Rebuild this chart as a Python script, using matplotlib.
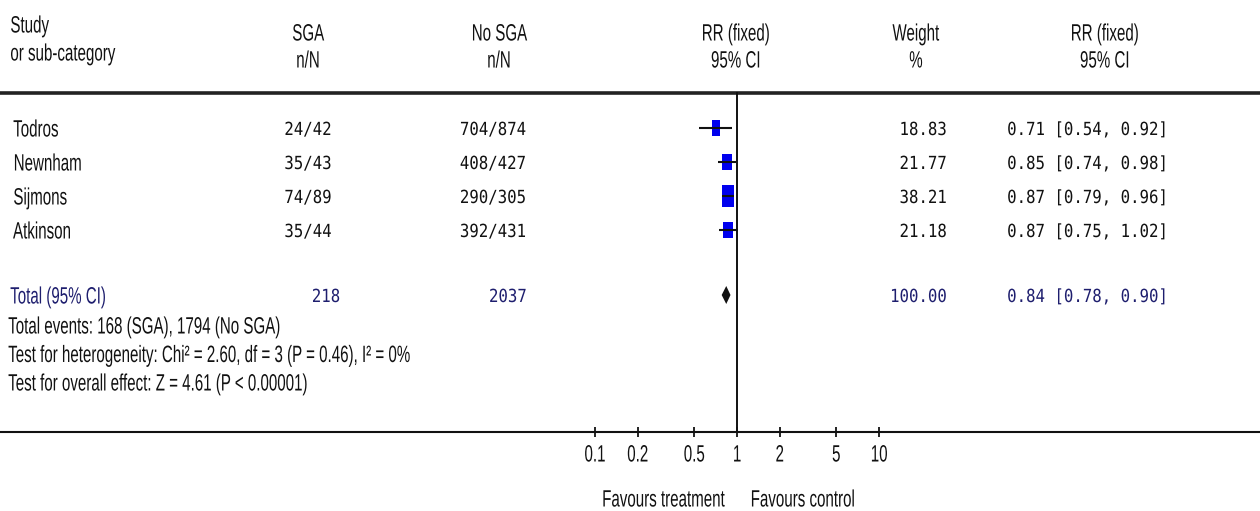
import matplotlib
matplotlib.use("Agg")
import matplotlib.pyplot as plt
from matplotlib.patheffects import AbstractPathEffect
from matplotlib.transforms import Affine2D, blended_transform_factory
from matplotlib.path import Path
import numpy as np

# ---- study data ----
studies = ["Todros", "Newnham", "Sijmons", "Atkinson"]
sga_events = [24, 35, 74, 35]
sga_total = [42, 43, 89, 44]
nosga_events = [704, 408, 290, 392]
nosga_total = [874, 427, 305, 431]
weights = [18.83, 21.77, 38.21, 21.18]
rr = [0.71, 0.85, 0.87, 0.87]
rr_low = [0.54, 0.74, 0.79, 0.75]
rr_high = [0.92, 0.98, 0.96, 1.02]

# ---- pooled estimate ----
total_sga = 218
total_nosga = 2037
total_weight = 100.00
pooled_rr = 0.84
pooled_low = 0.78
pooled_high = 0.90

footnotes = [
    "Total events: 168 (SGA), 1794 (No SGA)",
    "Test for heterogeneity: Chi\u00b2 = 2.60, df = 3 (P = 0.46), I\u00b2 = 0%",
    "Test for overall effect: Z = 4.61 (P < 0.00001)",
]
tick_values = [0.1, 0.2, 0.5, 1, 2, 5, 10]
tick_labels = ["0.1", "0.2", "0.5", "1", "2", "5", "10"]


class XSqueeze(AbstractPathEffect):
    """Narrow glyphs horizontally about the text's alignment point."""

    def __init__(self, sx, align="left"):
        super().__init__()
        self.sx = sx
        self.align = align

    def draw_path(self, renderer, gc, tpath, affine, rgbFace=None):
        bb = tpath.get_extents(affine)
        x0 = {"left": bb.x0, "center": 0.5 * (bb.x0 + bb.x1), "right": bb.x1}[self.align]
        t = affine + Affine2D().translate(-x0, 0).scale(self.sx, 1).translate(x0, 0)
        renderer.draw_path(gc, tpath, t, rgbFace)


W, H = 1260, 511
AXIS_Y = 432
fig = plt.figure(figsize=(W / 100, H / 100), dpi=100)
ax = fig.add_axes([0, (H - AXIS_Y) / H, 1, AXIS_Y / H])
ax.set_xscale("log")
# one decade spans 142 px, null effect line at x = 737 px
ax.set_xlim(10 ** (-737 / 142), 10 ** ((W - 737) / 142))
ax.set_ylim(AXIS_Y, 0)
for s in ("top", "left", "right"):
    ax.spines[s].set_visible(False)
ax.spines["bottom"].set_linewidth(1.5)
ax.spines["bottom"].set_color("#111111")
ax.set_yticks([])
ax.xaxis.set_minor_locator(matplotlib.ticker.NullLocator())
ax.set_xticks(tick_values)
SANS = "Liberation Sans"
MONO = "DejaVu Sans Mono"
SANS_SIZE = 17
SANS_SX = 0.64
MONO_SIZE = 13
MONO_SX = 0.87
INK = "#111111"
NAVY = "#1e1e6e"

labels = ax.set_xticklabels(tick_labels, fontfamily=SANS, fontsize=SANS_SIZE, color=INK)
for lbl in labels:
    lbl.set_path_effects([XSqueeze(SANS_SX, "center")])
ax.tick_params(axis="x", direction="inout", length=7, width=1.3, color=INK, pad=5.5)

tr = blended_transform_factory(ax.transAxes, ax.transData)


def sans(x, y, s, ha="left", color=INK):
    t = ax.text(x / W, y, s, transform=tr, ha=ha, va="center_baseline",
                fontfamily=SANS, fontsize=SANS_SIZE, color=color)
    t.set_path_effects([XSqueeze(SANS_SX, ha)])
    return t


def mono(x, y, s, ha="left", color=INK):
    t = ax.text(x / W, y, s, transform=tr, ha=ha, va="center_baseline",
                fontfamily=MONO, fontsize=MONO_SIZE, color=color)
    t.set_path_effects([XSqueeze(MONO_SX, ha)])
    return t


# ---- header ----
sans(10, 24, "Study")
sans(10, 52, "or sub-category")
sans(308, 32, "SGA", "center")
sans(308, 59, "n/N", "center")
sans(499, 32, "No SGA", "center")
sans(499, 59, "n/N", "center")
sans(736, 32, "RR (fixed)", "center")
sans(736, 59, "95% CI", "center")
sans(916, 32, "Weight", "center")
sans(916, 59, "%", "center")
sans(1105, 32, "RR (fixed)", "center")
sans(1105, 59, "95% CI", "center")
ax.axhline(93, color="#222222", lw=2.6)

# ---- study rows ----
ROW0, ROW_STEP = 128, 34
rows = [ROW0 + ROW_STEP * i for i in range(len(studies))]

# rectangular study markers, taller than wide
rect_marker = Path([(-0.5, -0.875), (0.5, -0.875), (0.5, 0.875), (-0.5, 0.875), (-0.5, -0.875)],
                   [Path.MOVETO, Path.LINETO, Path.LINETO, Path.LINETO, Path.CLOSEPOLY])

for i, y in enumerate(rows):
    sans(13, y, studies[i])
    mono(308, y, f"{sga_events[i]}/{sga_total[i]}", "center")
    mono(493, y, f"{nosga_events[i]}/{nosga_total[i]}", "center")
    mono(947, y, f"{weights[i]:.2f}", "right")
    mono(1007, y, f"{rr[i]:.2f} [{rr_low[i]:.2f}, {rr_high[i]:.2f}]")
    height_px = 2.0 * np.sqrt(weights[i]) * 1.75
    ax.plot([rr[i]], [y], marker=rect_marker, markersize=height_px * 0.72,
            color="#0000ee", markeredgewidth=0, zorder=3)
    ax.plot([rr_low[i], rr_high[i]], [y, y], color="#111111", lw=1.5, zorder=4,
            solid_capstyle="butt")

# ---- pooled row ----
TOTAL_Y = 295
sans(10, TOTAL_Y, "Total (95% CI)", color=NAVY)
mono(326, TOTAL_Y, f"{total_sga}", "center", NAVY)
mono(527, TOTAL_Y, f"{total_nosga}", "right", NAVY)
mono(947, TOTAL_Y, f"{total_weight:.2f}", "right", NAVY)
mono(1007, TOTAL_Y, f"{pooled_rr:.2f} [{pooled_low:.2f}, {pooled_high:.2f}]", color=NAVY)
half_h = 9
ax.fill([pooled_low, pooled_rr, pooled_high, pooled_rr],
        [TOTAL_Y, TOTAL_Y - half_h, TOTAL_Y, TOTAL_Y + half_h],
        color="#111111", lw=0, zorder=3)

for j, note in enumerate(footnotes):
    sans(8, 325 + 28.5 * j, note)

# line of no effect
ax.plot([1, 1], [93, AXIS_Y], color="#111111", lw=1.4, zorder=2, clip_on=False)

# ---- direction labels ----
sans(725, 498, "Favours treatment", "right")
sans(750, 498, "Favours control", "left")

fig.savefig("out.png", dpi=100, facecolor="white")
